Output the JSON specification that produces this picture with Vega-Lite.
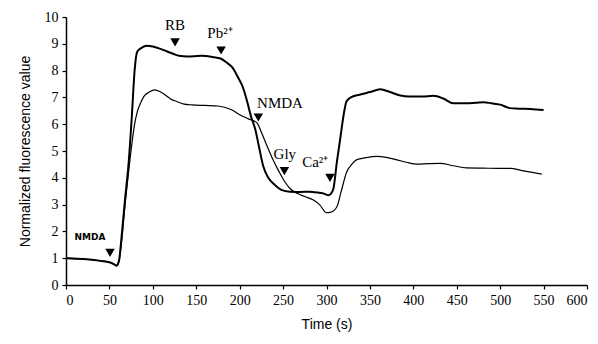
{
  "$schema": "https://vega.github.io/schema/vega-lite/v6.json",
  "width": 521,
  "height": 268,
  "autosize": {"type": "none"},
  "padding": {"left": 66, "top": 17, "right": 11, "bottom": 59},
  "background": "white",
  "config": {
    "view": {"stroke": null},
    "axis": {
      "grid": false,
      "domainColor": "black",
      "tickColor": "black",
      "labelColor": "black",
      "titleColor": "black",
      "labelFont": "Liberation Serif",
      "labelFontSize": 14,
      "titleFont": "Liberation Sans",
      "titleFontSize": 14,
      "titleFontWeight": "normal",
      "tickSize": 4,
      "domainWidth": 1.5,
      "tickWidth": 1.2
    }
  },
  "datasets": {
    "curves": [
      {"t": 0, "v": 1.0, "s": "thick"}, {"t": 20, "v": 0.97, "s": "thick"}, {"t": 40, "v": 0.9, "s": "thick"}, {"t": 50, "v": 0.85, "s": "thick"}, {"t": 55, "v": 0.78, "s": "thick"}, {"t": 58, "v": 0.72, "s": "thick"}, {"t": 61, "v": 0.9, "s": "thick"}, {"t": 64, "v": 1.8, "s": "thick"}, {"t": 68, "v": 3.2, "s": "thick"}, {"t": 72, "v": 4.5, "s": "thick"}, {"t": 76, "v": 6.4, "s": "thick"}, {"t": 79, "v": 8.0, "s": "thick"}, {"t": 82, "v": 8.7, "s": "thick"}, {"t": 87, "v": 8.85, "s": "thick"}, {"t": 93, "v": 8.93, "s": "thick"}, {"t": 100, "v": 8.9, "s": "thick"}, {"t": 108, "v": 8.82, "s": "thick"}, {"t": 116, "v": 8.72, "s": "thick"}, {"t": 124, "v": 8.62, "s": "thick"}, {"t": 130, "v": 8.55, "s": "thick"}, {"t": 140, "v": 8.53, "s": "thick"}, {"t": 155, "v": 8.55, "s": "thick"}, {"t": 170, "v": 8.5, "s": "thick"}, {"t": 178, "v": 8.45, "s": "thick"}, {"t": 185, "v": 8.3, "s": "thick"}, {"t": 192, "v": 8.1, "s": "thick"}, {"t": 198, "v": 7.75, "s": "thick"}, {"t": 204, "v": 7.35, "s": "thick"}, {"t": 209, "v": 6.8, "s": "thick"}, {"t": 213, "v": 6.3, "s": "thick"}, {"t": 218, "v": 5.8, "s": "thick"}, {"t": 222, "v": 5.2, "s": "thick"}, {"t": 227, "v": 4.45, "s": "thick"}, {"t": 233, "v": 4.0, "s": "thick"}, {"t": 240, "v": 3.75, "s": "thick"}, {"t": 248, "v": 3.55, "s": "thick"}, {"t": 258, "v": 3.48, "s": "thick"}, {"t": 270, "v": 3.47, "s": "thick"}, {"t": 280, "v": 3.48, "s": "thick"}, {"t": 290, "v": 3.45, "s": "thick"}, {"t": 296, "v": 3.42, "s": "thick"}, {"t": 302, "v": 3.35, "s": "thick"}, {"t": 305, "v": 3.4, "s": "thick"}, {"t": 308, "v": 3.6, "s": "thick"}, {"t": 312, "v": 4.6, "s": "thick"}, {"t": 316, "v": 5.5, "s": "thick"}, {"t": 320, "v": 6.4, "s": "thick"}, {"t": 323, "v": 6.85, "s": "thick"}, {"t": 328, "v": 7.0, "s": "thick"}, {"t": 338, "v": 7.1, "s": "thick"}, {"t": 350, "v": 7.2, "s": "thick"}, {"t": 362, "v": 7.3, "s": "thick"}, {"t": 373, "v": 7.2, "s": "thick"}, {"t": 385, "v": 7.07, "s": "thick"}, {"t": 395, "v": 7.03, "s": "thick"}, {"t": 410, "v": 7.03, "s": "thick"}, {"t": 423, "v": 7.06, "s": "thick"}, {"t": 435, "v": 6.95, "s": "thick"}, {"t": 446, "v": 6.78, "s": "thick"}, {"t": 460, "v": 6.78, "s": "thick"}, {"t": 472, "v": 6.8, "s": "thick"}, {"t": 481, "v": 6.82, "s": "thick"}, {"t": 490, "v": 6.78, "s": "thick"}, {"t": 500, "v": 6.73, "s": "thick"}, {"t": 511, "v": 6.6, "s": "thick"}, {"t": 520, "v": 6.58, "s": "thick"}, {"t": 535, "v": 6.57, "s": "thick"}, {"t": 550, "v": 6.53, "s": "thick"},
      {"t": 0, "v": 1.0, "s": "thin"}, {"t": 20, "v": 0.97, "s": "thin"}, {"t": 40, "v": 0.9, "s": "thin"}, {"t": 50, "v": 0.85, "s": "thin"}, {"t": 55, "v": 0.78, "s": "thin"}, {"t": 58, "v": 0.72, "s": "thin"}, {"t": 61, "v": 0.9, "s": "thin"}, {"t": 64, "v": 1.6, "s": "thin"}, {"t": 68, "v": 3.0, "s": "thin"}, {"t": 72, "v": 4.2, "s": "thin"}, {"t": 76, "v": 5.3, "s": "thin"}, {"t": 79, "v": 6.0, "s": "thin"}, {"t": 82, "v": 6.45, "s": "thin"}, {"t": 86, "v": 6.8, "s": "thin"}, {"t": 90, "v": 7.05, "s": "thin"}, {"t": 96, "v": 7.2, "s": "thin"}, {"t": 102, "v": 7.28, "s": "thin"}, {"t": 108, "v": 7.22, "s": "thin"}, {"t": 114, "v": 7.1, "s": "thin"}, {"t": 120, "v": 6.95, "s": "thin"}, {"t": 128, "v": 6.84, "s": "thin"}, {"t": 136, "v": 6.75, "s": "thin"}, {"t": 145, "v": 6.72, "s": "thin"}, {"t": 160, "v": 6.7, "s": "thin"}, {"t": 175, "v": 6.68, "s": "thin"}, {"t": 190, "v": 6.55, "s": "thin"}, {"t": 200, "v": 6.35, "s": "thin"}, {"t": 210, "v": 6.2, "s": "thin"}, {"t": 220, "v": 6.05, "s": "thin"}, {"t": 225, "v": 5.7, "s": "thin"}, {"t": 232, "v": 5.15, "s": "thin"}, {"t": 238, "v": 4.7, "s": "thin"}, {"t": 245, "v": 4.25, "s": "thin"}, {"t": 251, "v": 3.9, "s": "thin"}, {"t": 258, "v": 3.6, "s": "thin"}, {"t": 266, "v": 3.42, "s": "thin"}, {"t": 275, "v": 3.3, "s": "thin"}, {"t": 285, "v": 3.17, "s": "thin"}, {"t": 292, "v": 3.0, "s": "thin"}, {"t": 300, "v": 2.7, "s": "thin"}, {"t": 305, "v": 2.72, "s": "thin"}, {"t": 312, "v": 2.92, "s": "thin"}, {"t": 317, "v": 3.5, "s": "thin"}, {"t": 323, "v": 4.2, "s": "thin"}, {"t": 329, "v": 4.5, "s": "thin"}, {"t": 335, "v": 4.68, "s": "thin"}, {"t": 345, "v": 4.75, "s": "thin"}, {"t": 358, "v": 4.8, "s": "thin"}, {"t": 369, "v": 4.76, "s": "thin"}, {"t": 380, "v": 4.68, "s": "thin"}, {"t": 392, "v": 4.58, "s": "thin"}, {"t": 404, "v": 4.51, "s": "thin"}, {"t": 418, "v": 4.53, "s": "thin"}, {"t": 431, "v": 4.54, "s": "thin"}, {"t": 446, "v": 4.45, "s": "thin"}, {"t": 461, "v": 4.37, "s": "thin"}, {"t": 480, "v": 4.36, "s": "thin"}, {"t": 500, "v": 4.35, "s": "thin"}, {"t": 512, "v": 4.35, "s": "thin"}, {"t": 525, "v": 4.27, "s": "thin"}, {"t": 537, "v": 4.2, "s": "thin"}, {"t": 548, "v": 4.14, "s": "thin"}
    ],
    "markers": [
      {"t": 50.7, "v": 1.2},
      {"t": 125.6, "v": 9.05},
      {"t": 178.6, "v": 8.75},
      {"t": 221.5, "v": 6.25},
      {"t": 251.5, "v": 4.25},
      {"t": 304, "v": 4.0}
    ],
    "labels": [
      {"t": 27.6, "v": 1.8, "txt": "NMDA", "kind": "small"},
      {"t": 125.6, "v": 9.72, "txt": "RB", "kind": "normal"},
      {"t": 177.4, "v": 9.42, "txt": "Pb²⁺", "kind": "normal"},
      {"t": 246.5, "v": 6.8, "txt": "NMDA", "kind": "normal"},
      {"t": 252, "v": 4.9, "txt": "Gly", "kind": "normal"},
      {"t": 287, "v": 4.6, "txt": "Ca²⁺", "kind": "normal"}
    ]
  },
  "encoding": {
    "x": {"field": "t", "type": "quantitative", "scale": {"domain": [0, 600], "nice": false}, "axis": {"values": [0, 50, 100, 150, 200, 250, 300, 350, 400, 450, 500, 550, 600], "title": "Time (s)", "titlePadding": 10, "labelPadding": 4, "labelFont": "Liberation Serif", "labelFontSize": 14, "titleFont": "Liberation Sans", "titleFontSize": 14}},
    "y": {"field": "v", "type": "quantitative", "scale": {"domain": [0, 10], "nice": false}, "axis": {"values": [0, 1, 2, 3, 4, 5, 6, 7, 8, 9, 10], "title": "Normalized fluorescence value", "titlePadding": 12, "labelPadding": 4, "labelFont": "Liberation Serif", "labelFontSize": 14, "titleFont": "Liberation Sans", "titleFontSize": 14}}
  },
  "layer": [
    {
      "data": {"name": "curves"},
      "transform": [{"filter": "datum.s === 'thin'"}],
      "mark": {"type": "line", "color": "black", "strokeWidth": 1.2, "interpolate": "monotone"}
    },
    {
      "data": {"name": "curves"},
      "transform": [{"filter": "datum.s === 'thick'"}],
      "mark": {"type": "line", "color": "black", "strokeWidth": 2, "interpolate": "monotone"}
    },
    {
      "data": {"name": "markers"},
      "mark": {"type": "point", "shape": "triangle-down", "filled": true, "color": "black", "size": 90, "opacity": 1}
    },
    {
      "data": {"name": "labels"},
      "transform": [{"filter": "datum.kind === 'normal'"}],
      "mark": {"type": "text", "font": "Liberation Serif", "fontSize": 15, "color": "black", "baseline": "middle", "align": "center"},
      "encoding": {"text": {"field": "txt"}}
    },
    {
      "data": {"name": "labels"},
      "transform": [{"filter": "datum.kind === 'small'"}],
      "mark": {"type": "text", "font": "DejaVu Sans", "fontWeight": "bold", "fontSize": 9, "color": "black", "baseline": "middle", "align": "center"},
      "encoding": {"text": {"field": "txt"}}
    }
  ]
}
